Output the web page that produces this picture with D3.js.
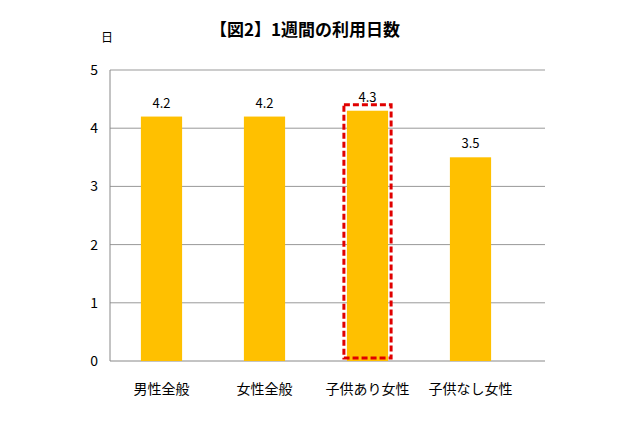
<!DOCTYPE html>
<html><head><meta charset="utf-8">
<script src="https://cdn.jsdelivr.net/npm/d3@7"></script>
<style>body{margin:0;background:#fff}text{font-family:"Noto Sans CJK JP",sans-serif}</style>
</head><body><svg id="c" width="640" height="426"></svg>
<script>
const categories=["男性全般","女性全般","子供あり女性","子供なし女性"];
const values=[4.2,4.2,4.3,3.5];
const yTicks=[0,1,2,3,4,5];
const highlight="子供あり女性";
const svg=d3.select("#c");
const x=d3.scaleBand().domain(categories).range([110,522]).paddingInner(0.6).paddingOuter(0.3);
const y=d3.scaleLinear().domain([0,5]).range([361,70]);
svg.append("g").selectAll("line").data(yTicks.slice(1)).join("line")
 .attr("x1",110).attr("x2",545).attr("y1",d=>y(d)).attr("y2",d=>y(d)).attr("stroke","#999");
svg.append("line").attr("x1",110).attr("x2",545).attr("y1",y(0)).attr("y2",y(0)).attr("stroke","#888");
svg.append("line").attr("x1",110).attr("x2",110).attr("y1",y(0)).attr("y2",y(5)).attr("stroke","#888");
svg.append("g").selectAll("text").data(yTicks).join("text")
 .attr("x",98).attr("y",d=>y(d)+5).attr("text-anchor","end").attr("font-size",14).text(d=>d);
svg.append("g").selectAll("rect").data(values).join("rect")
 .attr("x",(d,i)=>x(categories[i])).attr("width",x.bandwidth())
 .attr("y",d=>y(d)).attr("height",d=>y(0)-y(d)).attr("fill","#FFC000");
svg.append("g").selectAll("text").data(values).join("text")
 .attr("x",(d,i)=>x(categories[i])+x.bandwidth()/2).attr("y",d=>y(d)-9)
 .attr("text-anchor","middle").attr("font-size",13).text(d=>d.toFixed(1));
svg.append("g").selectAll("text").data(categories).join("text")
 .attr("x",d=>x(d)+x.bandwidth()/2).attr("y",394).attr("text-anchor","middle").attr("font-size",14).text(d=>d);
const hi=categories.indexOf(highlight);
svg.append("rect").attr("x",x(highlight)-3).attr("width",x.bandwidth()+6)
 .attr("y",y(values[hi])-6).attr("height",y(0)-y(values[hi])+3)
 .attr("fill","none").attr("stroke","#E00000").attr("stroke-width",3).attr("stroke-dasharray","6,3");
svg.append("text").attr("x",305).attr("y",36).attr("text-anchor","middle").attr("font-size",17).attr("font-weight","bold").text("【図2】1週間の利用日数");
svg.append("text").attr("x",107).attr("y",42).attr("text-anchor","middle").attr("font-size",12).text("日");
</script></body></html>
